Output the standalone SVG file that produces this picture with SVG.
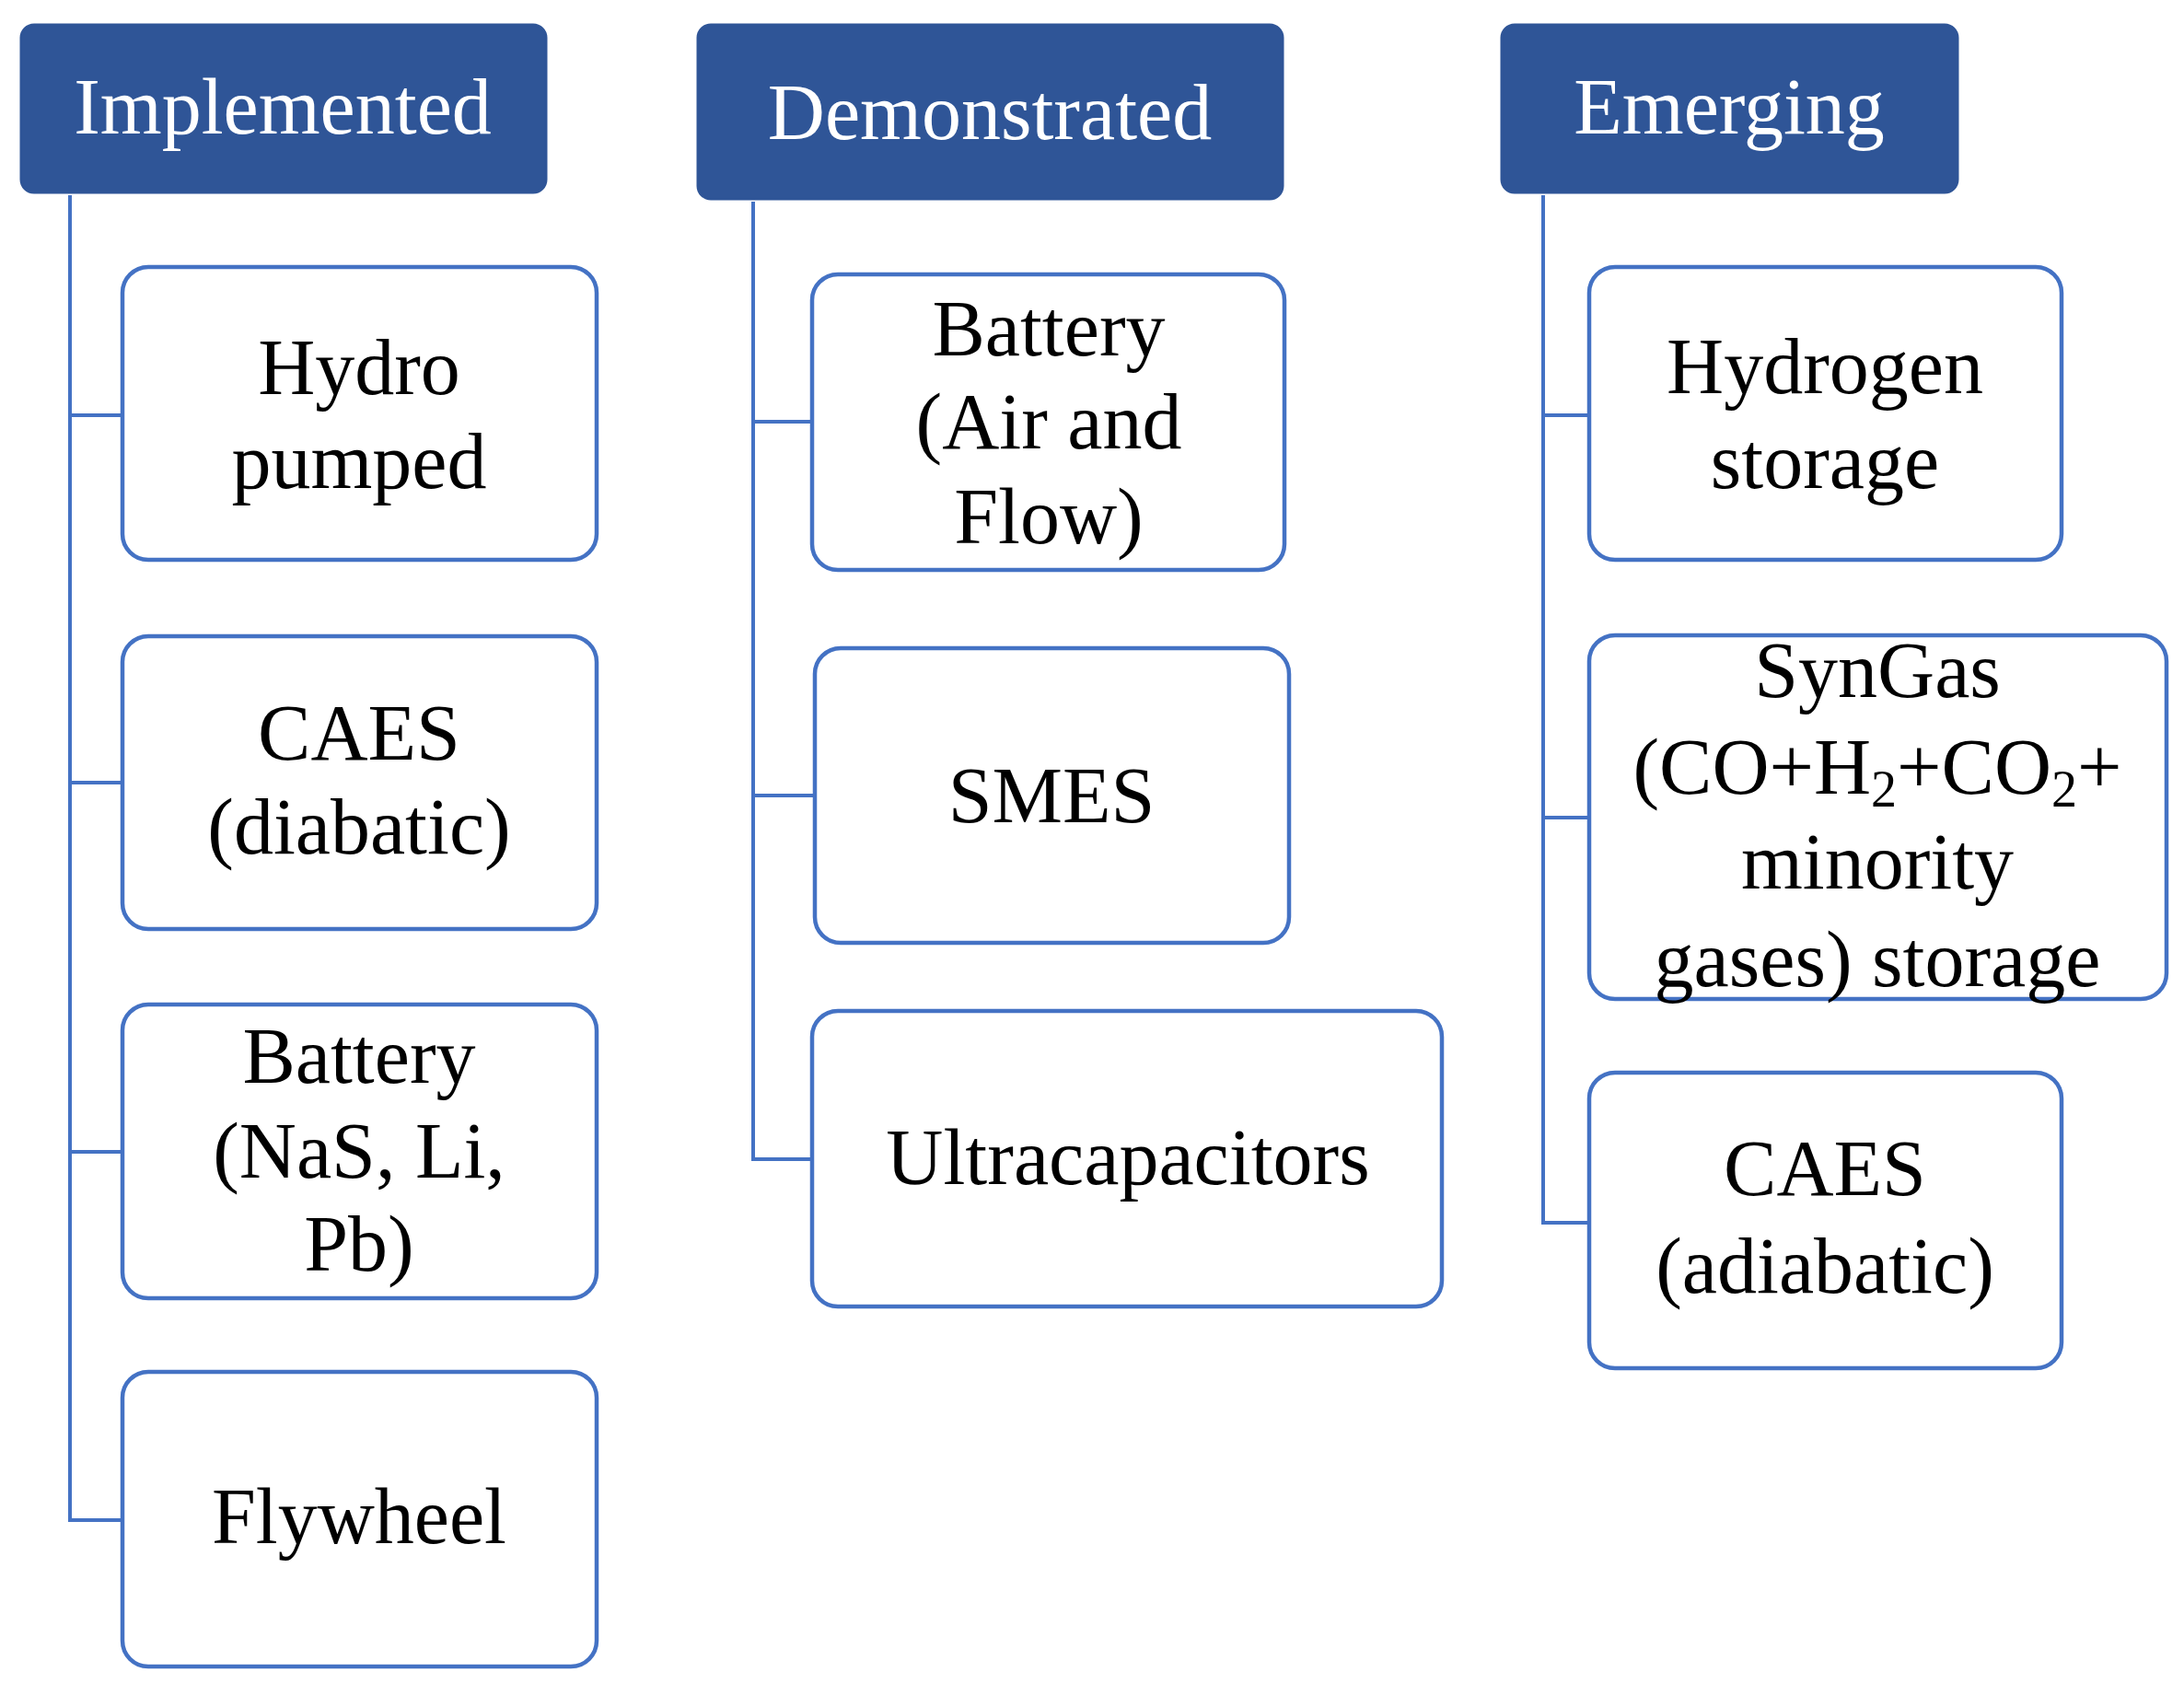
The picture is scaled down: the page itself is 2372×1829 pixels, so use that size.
<svg xmlns="http://www.w3.org/2000/svg" width="2372" height="1829" viewBox="0 0 2372 1829">
<style>
.h{fill:#2F5597;stroke:#2F5597;stroke-width:3}
.b{fill:#fff;stroke:#4472C4;stroke-width:4.5}
.ht{font-family:"Liberation Serif",serif;font-size:86px;fill:#fff;text-anchor:middle}
.t{font-family:"Liberation Serif",serif;font-size:86px;fill:#000;text-anchor:middle}
.c{fill:none;stroke:#4472C4;stroke-width:4}
</style>
<rect width="2372" height="1829" fill="#fff"/>
<g id="connectors">
<path class="c" d="M76 212V1651H133M76 451H133M76 850H133M76 1251H133"/>
<path class="c" d="M818 219V1259H882M818 458H882M818 864H885"/>
<path class="c" d="M1676 212V1328H1726M1676 451H1726M1676 888H1726"/>
</g>
<g id="implemented"><rect class="h" x="23" y="27" width="570" height="182" rx="14"/><text class="ht" x="307" y="145">Implemented</text></g>
<g id="demonstrated"><rect class="h" x="758" y="27" width="635" height="189" rx="14"/><text class="ht" x="1075" y="151">Demonstrated</text></g>
<g id="emerging"><rect class="h" x="1631" y="27" width="495" height="182" rx="14"/><text class="ht" x="1878" y="145">Emerging</text></g>
<g id="hydro"><rect class="b" x="133" y="290" width="515" height="318" rx="28"/><text class="t" x="390" y="428">Hydro</text><text class="t" x="390" y="530">pumped</text></g>
<g id="caes-d"><rect class="b" x="133" y="691" width="515" height="318" rx="28"/><text class="t" x="390" y="825">CAES</text><text class="t" x="390" y="927">(diabatic)</text></g>
<g id="battery1"><rect class="b" x="133" y="1091" width="515" height="319" rx="28"/><text class="t" x="390" y="1176">Battery</text><text class="t" x="390" y="1279">(NaS, Li,</text><text class="t" x="390" y="1380">Pb)</text></g>
<g id="flywheel"><rect class="b" x="133" y="1490" width="515" height="320" rx="28"/><text class="t" x="390" y="1676">Flywheel</text></g>
<g id="battery2"><rect class="b" x="882" y="298" width="513" height="321" rx="28"/><text class="t" x="1139" y="386">Battery</text><text class="t" x="1139" y="487">(Air and</text><text class="t" x="1139" y="590">Flow)</text></g>
<g id="smes"><rect class="b" x="885" y="704" width="515" height="320" rx="28"/><text class="t" x="1142" y="893">SMES</text></g>
<g id="ultra"><rect class="b" x="882" y="1098" width="684" height="321" rx="28"/><text class="t" x="1225" y="1286">Ultracapacitors</text></g>
<g id="hydrogen"><rect class="b" x="1726" y="290" width="513" height="318" rx="28"/><text class="t" x="1982" y="427">Hydrogen</text><text class="t" x="1982" y="530">storage</text></g>
<g id="syngas"><rect class="b" x="1726" y="690" width="627" height="395" rx="28"/><text class="t" x="2039" y="757">SynGas</text><text class="t" x="2039" y="862">(CO+H<tspan font-size="56" dy="14">2</tspan><tspan dy="-14">+CO</tspan><tspan font-size="56" dy="14">2</tspan><tspan dy="-14">+</tspan></text><text class="t" x="2039" y="965">minority</text><text class="t" x="2039" y="1071">gases)  storage</text></g>
<g id="caes-a"><rect class="b" x="1726" y="1165" width="513" height="321" rx="28"/><text class="t" x="1982" y="1298">CAES</text><text class="t" x="1982" y="1404">(adiabatic)</text></g>
</svg>
